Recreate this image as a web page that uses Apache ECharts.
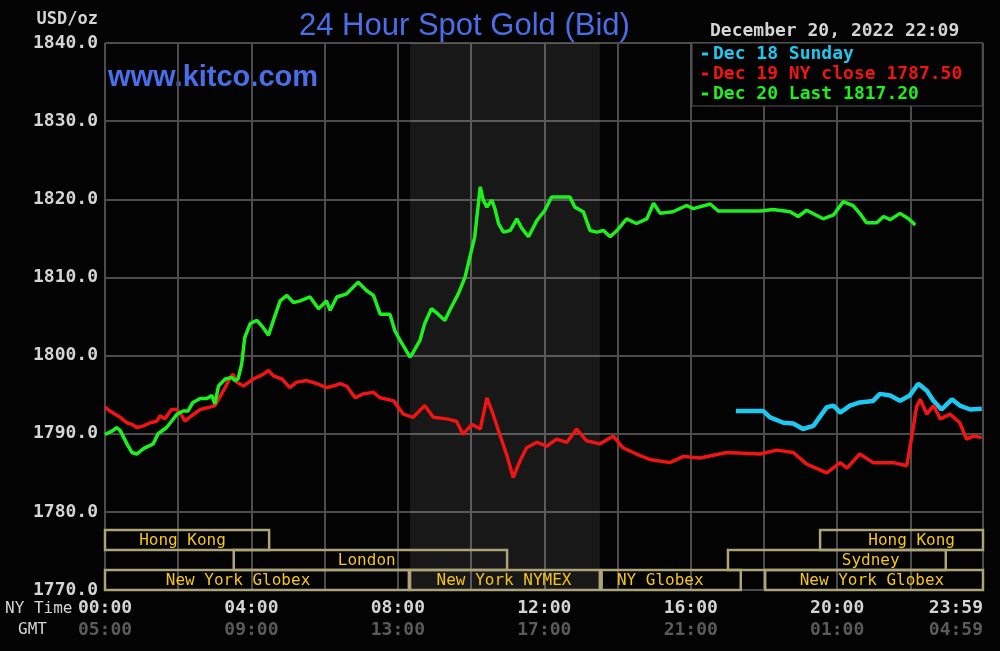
<!DOCTYPE html>
<html>
<head>
<meta charset="utf-8">
<script src="https://cdn.jsdelivr.net/npm/echarts@6/dist/echarts.min.js"></script>
<style>
html,body{margin:0;padding:0;background:#030303;}
#c{width:1000px;height:651px;}
</style>
</head>
<body>
<div id="c"></div>
<script>
// ---- Data (minutes after 00:00 NY time, price USD/oz) ----
const yTicks = [1770, 1780, 1790, 1800, 1810, 1820, 1830, 1840];

const seriesNames = ['Dec 18 Sunday', 'Dec 19 NY close 1787.50', 'Dec 20 Last 1817.20'];

const dec18Minutes = [1034, 1079, 1090, 1112, 1128, 1144, 1161, 1183, 1194, 1205, 1221, 1237, 1259, 1270, 1287, 1303, 1319, 1333, 1347, 1358, 1371, 1388, 1401, 1418, 1437];
const dec18Values  = [1792.9, 1792.9, 1792.1, 1791.4, 1791.3, 1790.6, 1791.0, 1793.4, 1793.6, 1792.7, 1793.6, 1794.0, 1794.2, 1795.1, 1794.9, 1794.2, 1794.9, 1796.4, 1795.5, 1794.2, 1793.1, 1794.4, 1793.6, 1793.1, 1793.2];

const dec19Minutes = [0, 8, 25, 36, 44, 52, 63, 74, 85, 90, 98, 109, 118, 126, 131, 142, 156, 172, 180, 186, 197, 205, 210, 216, 227, 243, 259, 268, 276, 290, 303, 314, 331, 347, 363, 374, 385, 396, 410, 423, 440, 451, 473, 489, 505, 524, 538, 560, 576, 587, 601, 615, 626, 636, 647, 658, 669, 680, 691, 708, 724, 740, 757, 773, 789, 811, 833, 849, 871, 893, 926, 948, 975, 1019, 1074, 1101, 1128, 1150, 1183, 1205, 1216, 1237, 1259, 1292, 1314, 1322, 1330, 1336, 1347, 1358, 1369, 1385, 1401, 1412, 1423, 1437];
const dec19Values  = [1793.4, 1792.9, 1792.1, 1791.4, 1791.2, 1790.8, 1791.0, 1791.4, 1791.6, 1792.3, 1791.9, 1793.1, 1793.1, 1792.3, 1791.6, 1792.3, 1793.1, 1793.4, 1793.6, 1794.4, 1795.9, 1797.2, 1797.6, 1796.6, 1796.1, 1797.0, 1797.6, 1798.1, 1797.4, 1797.0, 1795.9, 1796.6, 1796.8, 1796.4, 1795.9, 1796.1, 1796.4, 1796.1, 1794.6, 1795.1, 1795.3, 1794.6, 1794.2, 1792.5, 1792.1, 1793.6, 1792.1, 1791.9, 1791.6, 1789.9, 1791.2, 1790.6, 1794.6, 1792.5, 1789.9, 1787.4, 1784.4, 1786.5, 1788.2, 1788.9, 1788.4, 1789.3, 1788.9, 1790.6, 1789.1, 1788.7, 1789.7, 1788.2, 1787.4, 1786.7, 1786.3, 1787.1, 1786.9, 1787.6, 1787.4, 1787.9, 1787.6, 1786.1, 1785.0, 1786.3, 1785.6, 1787.4, 1786.3, 1786.3, 1785.9, 1789.5, 1793.4, 1794.4, 1792.5, 1793.6, 1791.9, 1792.5, 1791.4, 1789.3, 1789.7, 1789.5];

const dec20Minutes = [0, 13, 19, 25, 36, 44, 52, 63, 79, 87, 101, 109, 118, 128, 136, 144, 156, 167, 175, 180, 186, 197, 208, 213, 218, 224, 229, 238, 249, 259, 268, 276, 287, 298, 309, 320, 336, 350, 363, 369, 380, 396, 415, 429, 440, 451, 467, 475, 484, 500, 505, 516, 524, 535, 546, 557, 565, 579, 590, 598, 606, 615, 620, 626, 634, 639, 645, 653, 664, 675, 683, 694, 708, 721, 732, 746, 762, 770, 784, 795, 806, 817, 828, 839, 855, 871, 888, 899, 910, 931, 953, 964, 992, 1005, 1074, 1095, 1123, 1136, 1150, 1177, 1194, 1210, 1226, 1237, 1248, 1265, 1276, 1287, 1303, 1317, 1328];
const dec20Values  = [1789.9, 1790.4, 1790.8, 1790.4, 1788.7, 1787.6, 1787.4, 1788.1, 1788.7, 1790.0, 1790.8, 1791.6, 1792.5, 1792.9, 1792.9, 1794.0, 1794.5, 1794.5, 1794.9, 1793.8, 1796.1, 1797.0, 1797.2, 1796.8, 1797.0, 1798.9, 1802.3, 1804.1, 1804.5, 1803.6, 1802.6, 1804.5, 1807.0, 1807.7, 1806.8, 1807.0, 1807.5, 1806.0, 1807.0, 1805.8, 1807.5, 1807.9, 1809.4, 1808.3, 1807.7, 1805.3, 1805.3, 1803.2, 1801.9, 1799.8, 1800.4, 1801.9, 1804.1, 1806.0, 1805.3, 1804.5, 1805.8, 1807.9, 1810.0, 1812.6, 1815.2, 1821.6, 1819.9, 1819.0, 1819.9, 1818.8, 1816.9, 1815.8, 1816.0, 1817.5, 1816.3, 1815.2, 1817.3, 1818.6, 1820.3, 1820.3, 1820.3, 1819.0, 1818.4, 1816.0, 1815.8, 1816.0, 1815.2, 1816.0, 1817.5, 1816.9, 1817.5, 1819.5, 1818.2, 1818.4, 1819.2, 1818.8, 1819.4, 1818.5, 1818.5, 1818.7, 1818.4, 1817.8, 1818.6, 1817.5, 1818.0, 1819.7, 1819.2, 1818.2, 1817.0, 1817.0, 1817.8, 1817.4, 1818.2, 1817.5, 1816.7];

// NY trading-hours shading (minutes)
const nyShade = [500, 811];

// Session bars: name, start minute, end minute, row (0 top), label minute
const sessionNames  = ['Hong Kong', 'London', 'New York Globex', 'New York NYMEX', 'NY Globex', 'Sydney', 'Hong Kong', 'New York Globex'];
const sessionStart  = [0, 211, 0, 500, 814, 1021, 1172, 1082];
const sessionEnd    = [269, 659, 498, 811, 1042, 1378, 1439, 1439];
const sessionRow    = [0, 1, 2, 2, 2, 1, 0, 2];
const sessionLabelAt= [127, 429, 218, 654, 910, 1255, 1322, 1257];

// ---- Chart ----
const zip = (a, b) => a.map((v, i) => [v, b[i]]);
const pad = n => (n < 10 ? '0' : '') + n;
const mono = '"DejaVu Sans Mono", monospace';

const chart = echarts.init(document.getElementById('c'), null, {renderer: 'canvas'});

const sessionData = sessionNames.map((n, i) => [sessionStart[i], sessionEnd[i], sessionRow[i], sessionLabelAt[i], n]);

chart.setOption({
  backgroundColor: '#030303',
  animation: false,
  title: {
    text: '24 Hour Spot Gold (Bid)',
    left: 294, top: 6,
    textStyle: {fontFamily: '"Liberation Sans", Arial, sans-serif', fontSize: 31, fontWeight: 'normal', color: '#4a6ee8'}
  },
  legend: {
    orient: 'vertical',
    left: 692, top: 43,
    padding: [2, 20, 3, 10],
    itemGap: 2,
    itemWidth: 6, itemHeight: 3,
    icon: 'rect',
    backgroundColor: '#030303',
    borderColor: '#555555', borderWidth: 1,
    textStyle: {fontFamily: mono, fontWeight: 'bold', fontSize: 18, lineHeight: 18},
    data: [
      {name: seriesNames[0], textStyle: {color: '#1ec8f0'}},
      {name: seriesNames[1], textStyle: {color: '#f01414'}},
      {name: seriesNames[2], textStyle: {color: '#1ef01e'}}
    ],
    selectedMode: false
  },
  grid: {left: 105, right: 17, top: 43, bottom: 61, containLabel: false},
  xAxis: {
    type: 'value', min: 0, max: 1439, interval: 120,
    axisLine: {show: false}, axisTick: {show: false},
    splitLine: {show: true, lineStyle: {color: '#4c4c4c', width: 2}},
    axisLabel: {
      margin: 7,
      alignMaxLabel: 'right',
      formatter: v => {
        if (v % 240 === 0 || v === 1439) {
          const h = Math.floor(v / 60), m = v % 60;
          return '{n|' + pad(h) + ':' + pad(m) + '}\n{g|' + pad((h + 5) % 24) + ':' + pad(m) + '}';
        }
        return '';
      },
      rich: {
        n: {fontFamily: mono, fontWeight: 'bold', fontSize: 18, color: '#d4d4d4', lineHeight: 22},
        g: {fontFamily: mono, fontWeight: 'bold', fontSize: 18, color: '#5a5a5a', lineHeight: 22}
      }
    }
  },
  yAxis: {
    type: 'value', min: 1770, max: 1840, interval: 10,
    name: 'USD/oz', nameLocation: 'end', nameGap: 15,
    nameTextStyle: {fontFamily: mono, fontWeight: 'bold', fontSize: 17, color: '#d4d4d4', align: 'right', padding: [0, 7, 0, 0]},
    axisLine: {show: false}, axisTick: {show: false},
    splitLine: {show: true, lineStyle: {color: '#4c4c4c', width: 2}},
    axisLabel: {
      margin: 7,
      fontFamily: mono, fontWeight: 'bold', fontSize: 18, color: '#d4d4d4',
      formatter: v => v.toFixed(1)
    }
  },
  graphic: [
    {type: 'text', left: 108, top: 63, style: {text: 'www.kitco.com', font: 'bold 29px "Liberation Sans", Arial, sans-serif', fill: '#4a6ee8'}},
    {type: 'text', left: 710, top: 22, style: {text: 'December 20, 2022 22:09', font: 'bold 18px ' + mono, fill: '#d4d4d4'}},
    {type: 'text', left: 5, top: 601, style: {text: 'NY Time', font: '16px ' + mono, fill: '#d4d4d4'}},
    {type: 'text', left: 18, top: 622, style: {text: 'GMT', font: '16px ' + mono, fill: '#d4d4d4'}}
  ],
  series: [
    {
      name: 'NY hours', type: 'line', data: [], z: 1, silent: true,
      markArea: {silent: true, itemStyle: {color: 'rgba(255,255,255,0.085)'}, data: [[{xAxis: nyShade[0]}, {xAxis: nyShade[1]}]]}
    },
    {
      name: 'sessions', type: 'custom', z: 3, silent: true, clip: false,
      data: sessionData,
      renderItem: (params, api) => {
        const s = api.coord([api.value(0), 1770]);
        const e = api.coord([api.value(1), 1770]);
        const lx = api.coord([api.value(3), 1770])[0];
        const rowH = 20;
        const top = s[1] - (3 - api.value(2)) * rowH;
        return {
          type: 'group',
          children: [
            {type: 'rect', shape: {x: s[0], y: top, width: e[0] - s[0], height: rowH},
             style: {fill: 'none', stroke: '#aca478', lineWidth: 2.5}},
            {type: 'text', style: {x: lx, y: top + rowH / 2 + 1, text: sessionData[params.dataIndex][4],
             font: '16px ' + mono, fill: '#f5c518', align: 'center', verticalAlign: 'middle'}}
          ]
        };
      }
    },
    {name: seriesNames[0], type: 'line', showSymbol: false, z: 4, color: '#1ec8f0',
     lineStyle: {width: 4.5, color: '#1ec8f0'}, data: zip(dec18Minutes, dec18Values)},
    {name: seriesNames[1], type: 'line', showSymbol: false, z: 5, color: '#f01414',
     lineStyle: {width: 3.5, color: '#f01414'}, data: zip(dec19Minutes, dec19Values)},
    {name: seriesNames[2], type: 'line', showSymbol: false, z: 6, color: '#1ef01e',
     lineStyle: {width: 3.5, color: '#1ef01e'}, data: zip(dec20Minutes, dec20Values)}
  ]
});
</script>
</body>
</html>
